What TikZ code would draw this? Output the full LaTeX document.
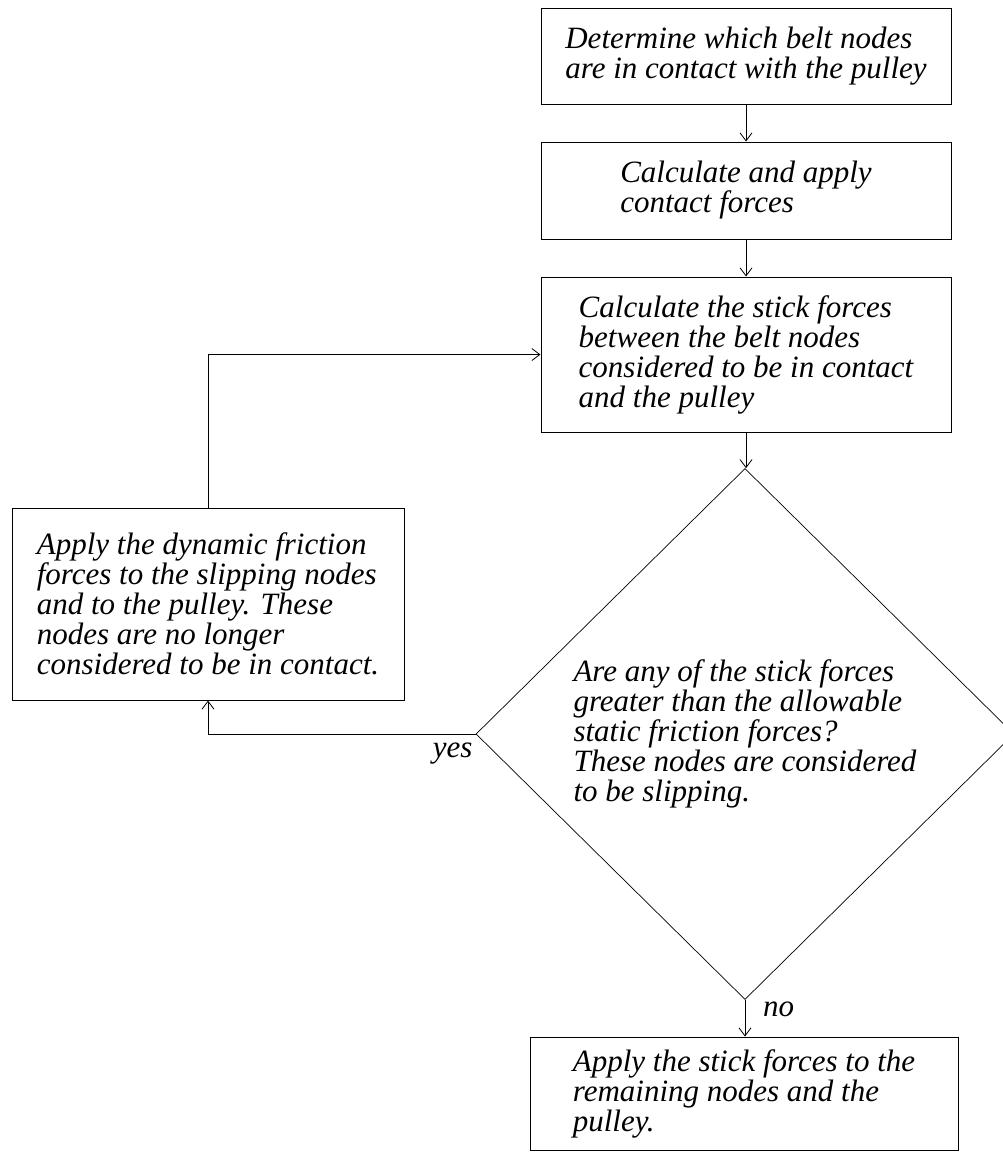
\documentclass[tikz,border=0pt]{standalone}
\usepackage{fontspec}
\setmainfont{Liberation Serif}
\usetikzlibrary{shapes.geometric,arrows.meta,calc}
\begin{document}
\begin{tikzpicture}[x=1pt,y=-1pt,
  txt/.style={font=\fontsize{31}{30}\selectfont\itshape, align=left},
  box/.style={txt, draw, rectangle, line width=1pt, inner sep=0pt},
  dec/.style={txt, draw, diamond, line width=0.7pt, inner sep=0pt},
  arr/.style={-{Straight Barb[length=8pt,width=12pt]}, line width=0.8pt},
  lbl/.style={txt, inner sep=0pt}]
\fill[white] (0,0) rectangle (1002,1157);
\useasboundingbox (0,0) rectangle (1002,1157);
\node[box, minimum width=410pt, minimum height=96pt] (b1) at (746,56)
  {Determine which belt nodes\\are in contact with the pulley};
\node[box, minimum width=410pt, minimum height=97pt] (b2) at (746,190.5)
  {Calculate and apply\\contact forces};
\node[box, minimum width=410pt, minimum height=155pt] (b3) at (746,354.5)
  {Calculate the stick forces\\between the belt nodes\\considered to be in contact\\and the pulley};
\node[dec, minimum width=538pt, minimum height=531pt] (d) at (745,734)
  {Are any of the stick forces\\greater than the allowable\\static friction forces?\\These nodes are considered\\to be slipping.};
\node[box, minimum width=392pt, minimum height=192pt] (lb) at (208,604)
  {Apply the dynamic friction\\forces to the slipping nodes\\and to the pulley. These\\nodes are no longer\\considered to be in contact.};
\node[box, minimum width=428pt, minimum height=113pt] (b4) at (744,1093.5)
  {Apply the stick forces to the\\remaining nodes and the\\pulley.};
\draw[arr] (b1.south) -- (b1.south |- b2.north);
\draw[arr] (b2.south) -- (b2.south |- b3.north);
\draw[arr] (b3.south) -- (b3.south |- d.north);
\draw[arr] (lb.north) |- (b3.west);
\draw[arr] (d.west) -| (lb.south);
\draw[arr] (d.south) -- (d.south |- b4.north);
\node[lbl, anchor=north east] (yes) at ($(d.west)+(-3,9)$) {yes};
\node[lbl, anchor=north west] (no) at ($(d.south)+(18,2)$) {no};
\end{tikzpicture}
\end{document}
